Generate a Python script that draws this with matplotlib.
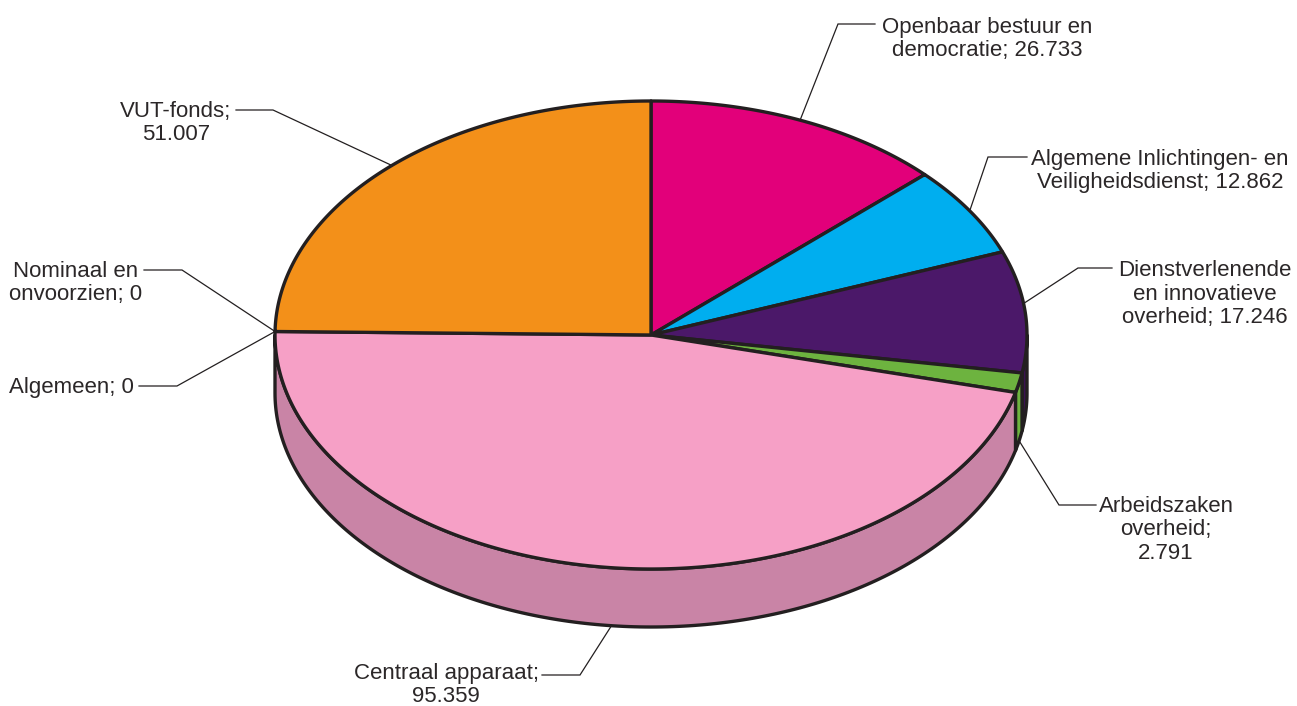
import numpy as np
import matplotlib
matplotlib.use('Agg')
import matplotlib.pyplot as plt
from matplotlib.patches import Polygon

plt.rcParams['font.family'] = ['Liberation Sans', 'DejaVu Sans']

# clockwise from twelve o'clock
labels = ['Openbaar bestuur en\ndemocratie; 26.733',
          'Algemene Inlichtingen- en\nVeiligheidsdienst; 12.862',
          'Dienstverlenende\nen innovatieve\noverheid; 17.246',
          'Arbeidszaken\noverheid;\n2.791',
          'Centraal apparaat;\n95.359',
          'Algemeen; 0',
          'Nominaal en\nonvoorzien; 0',
          'VUT-fonds;\n51.007']
values = [26733, 12862, 17246, 2791, 95359, 0, 0, 51007]
top_colors = ['#e2007a', '#00aeef', '#4b1869', '#6db33f', '#f6a0c6', '#f6a0c6', '#f39019', '#f39019']
side_colors = ['#b0005f', '#0088bb', '#3a1252', '#6db33f', '#c984a6', '#c984a6', '#c07212', '#c07212']

# pie geometry in pixels
cx, cy = 651, 335
rx, ry = 376, 234
depth = 58
edge = '#231f20'
text_color = '#2b2728'

# label layout: text x, text y, elbow x, elbow y, line end x, on side wall, anchor nudge in degrees
layout = [
    (987, 39, 838, 24, 875, False, 0),
    (1160, 171, 988, 157, 1027, False, 0),
    (1205, 294, 1078, 268, 1112, False, -2),
    (1166, 530, 1059, 505, 1096, True, 0),
    (446, 685, 580, 675, 542, True, -1.5),
    (71, 388, 177, 386, 139, False, 0),
    (76, 283, 182, 270, 144, False, 0),
    (176, 123, 273, 110, 236, False, 1),
]


def arc(a0, a1, n=200):
    t = np.radians(np.linspace(a0, a1, n))
    return cx + rx * np.sin(t), cy - ry * np.cos(t)


fig = plt.figure(figsize=(12.97, 7.06), dpi=100)
ax = fig.add_axes([0, 0, 1, 1])
ax.set_xlim(0, 1297)
ax.set_ylim(706, 0)
ax.axis('off')

edges = np.concatenate([[0], np.cumsum(values)]) / sum(values) * 360

# side walls, only the front half of the rim shows
for i in range(len(values)):
    a0, a1 = max(edges[i], 90), min(edges[i + 1], 270)
    if a1 <= a0:
        continue
    x, y = arc(a0, a1)
    pts = np.column_stack([np.r_[x, x[::-1]], np.r_[y, y[::-1] + depth]])
    ax.add_patch(Polygon(pts, closed=True, facecolor=side_colors[i], edgecolor=edge,
                         linewidth=2.4, joinstyle='round', zorder=2))

# top face
for i in range(len(values)):
    if values[i] == 0:
        continue
    x, y = arc(edges[i], edges[i + 1])
    pts = np.column_stack([np.r_[cx, x], np.r_[cy, y]])
    ax.add_patch(Polygon(pts, closed=True, facecolor=top_colors[i], edgecolor=edge,
                         linewidth=2.4, joinstyle='round', zorder=3))

# labels and leader lines
for i, lab in enumerate(labels):
    tx, ty, ex, ey, lx, on_side, nudge = layout[i]
    mid = np.radians((edges[i] + edges[i + 1]) / 2 + nudge)
    ax_x = cx + rx * np.sin(mid)
    ax_y = cy - ry * np.cos(mid) + (depth if on_side else 0)
    ax.plot([ax_x, ex, lx], [ax_y, ey, ey], color=edge, lw=0.9, zorder=4, solid_joinstyle='miter')
    ax.text(tx, ty, lab, ha='center', va='center', fontsize=16, color=text_color,
            linespacing=1.13, zorder=5)

fig.savefig('out.png', dpi=100)
